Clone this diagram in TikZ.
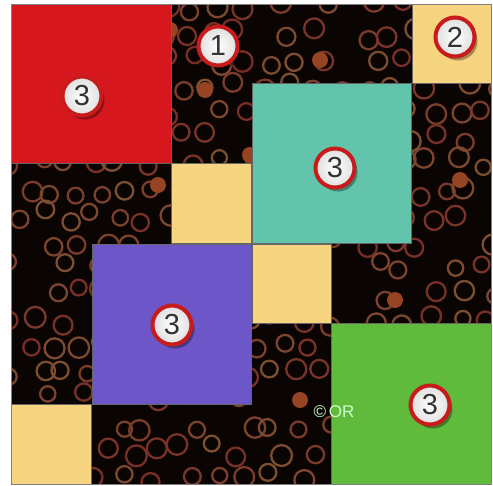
\documentclass[tikz,border=0pt]{standalone}
\usepackage{fontspec}
\setsansfont{Liberation Sans}
\usetikzlibrary{shadows}
\definecolor{quiltred}{RGB}{214,24,30}
\definecolor{quiltteal}{RGB}{98,196,170}
\definecolor{quiltyellow}{RGB}{247,212,128}
\definecolor{quiltpurple}{RGB}{108,86,200}
\definecolor{quiltgreen}{RGB}{96,186,60}
\definecolor{quiltblack}{RGB}{10,4,2}
\definecolor{ringbrown}{RGB}{125,80,50}
\definecolor{ringred}{RGB}{120,45,38}
\definecolor{dotbrown}{RGB}{150,68,36}
\definecolor{ballred}{RGB}{200,28,28}
\tikzset{
  ball/.style={circle, minimum size=39pt, inner sep=0pt, draw=ballred, line width=4pt,
    inner color=white, outer color=white!75!gray, text=black!80,
    font=\sffamily\fontsize{29}{29}\selectfont,
    drop shadow={shadow xshift=3pt, shadow yshift=-4pt, opacity=0.35, fill=black}},
  ring/.style={line width=2.3pt},
  patch/.style={line width=0.6pt, draw=black!60}
}
\begin{document}
\begin{tikzpicture}[x=1pt,y=-1pt]
\useasboundingbox (0,0) rectangle (493,485);
\fill[white] (0,0) rectangle (493,485);
% black background fabric with rings
\begin{scope}
\clip (11,4) rectangle (491,484);
\fill[quiltblack] (11,4) rectangle (491,484);
\pgfmathsetseed{12}
\foreach \gx in {0,...,18}{
  \foreach \gy in {0,...,18}{
    \pgfmathsetmacro\rx{14+26*\gx+14*(rnd-0.5)+13*mod(\gy,2)}
    \pgfmathsetmacro\ry{8+26*\gy+14*(rnd-0.5)}
    \pgfmathsetmacro\rr{7.5+3*rnd}
    \pgfmathsetmacro\mixv{100*rnd}
    \pgfmathsetmacro\skip{rnd}
    \ifdim\skip pt>0.18pt
      \draw[ring, color=ringbrown!\mixv!ringred] (\rx,\ry) circle[radius=\rr];
    \fi
  }
}
\foreach \px/\py in {35/155, 85/140, 158/185, 130/295, 250/155, 205/90, 320/60, 460/180, 395/300, 300/400, 470/350, 170/30}{
  \fill[dotbrown] (\px,\py) circle[radius=8];
}
\end{scope}
% colored patches
\fill[quiltred, patch] (11,4) rectangle (171,163);
\fill[quiltyellow, patch] (412,4) rectangle (491,83);
\fill[quiltteal, patch] (252,83) rectangle (411,243);
\fill[quiltyellow, patch] (171,163) rectangle (251,243);
\fill[quiltpurple, patch] (92,244) rectangle (251,404);
\fill[quiltyellow, patch] (252,244) rectangle (331,323);
\fill[quiltgreen, patch] (331,323) rectangle (491,484);
\fill[quiltyellow, patch] (11,404) rectangle (91,484);
\draw[black!50, line width=0.6pt] (11,4) rectangle (491,484);
% copyright mark
\node[text=white!80!green, font=\sffamily\fontsize{17}{17}\selectfont] (copy) at (334,412) {\textcopyright\,OR};
% numbered balls
\node[ball] (b1) at (218,46) {1};
\node[ball] (b2) at (455,37) {2};
\node[ball] (b3) at (82,96) {3};
\node[ball] (b4) at (335,168) {3};
\node[ball] (b5) at (172,325) {3};
\node[ball] (b6) at (430,405) {3};
\end{tikzpicture}
\end{document}
